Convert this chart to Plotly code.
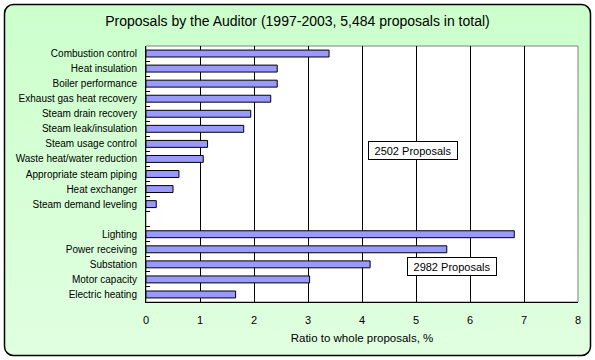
import base64
import plotly.graph_objects as go

categories = [
    "Combustion control", "Heat insulation", "Boiler performance",
    "Exhaust gas heat recovery", "Steam drain recovery", "Steam leak/insulation",
    "Steam usage control", "Waste heat/water reduction", "Appropriate steam piping",
    "Heat exchanger", "Steam demand leveling", " ",
    "Lighting", "Power receiving", "Substation", "Motor capacity", "Electric heating",
]
ratios = [3.39, 2.43, 2.43, 2.31, 1.94, 1.81, 1.14, 1.06, 0.61, 0.50, 0.19, None,
          6.82, 5.57, 4.15, 3.03, 1.66]
x_ticks = [0, 1, 2, 3, 4, 5, 6, 7, 8]
title_text = "Proposals by the Auditor (1997-2003, 5,484 proposals in total)"
x_title = "Ratio to whole proposals, %"
group_notes = ["2502 Proposals", "2982 Proposals"]

W, H = 595, 360
L, R, T, B = 146, 17, 46, 58
pw, ph = W - L - R, H - T - B

FONT = "Liberation Sans, Arial, sans-serif"

svg = (
    f'<svg xmlns="http://www.w3.org/2000/svg" width="{W}" height="{H}">'
    '<defs><linearGradient id="g" x1="0" y1="0" x2="0" y2="1">'
    '<stop offset="0" stop-color="#CCFFCC"/><stop offset="1" stop-color="#E0FFE0"/>'
    '</linearGradient></defs>'
    f'<rect x="4.5" y="4.5" width="{W-9}" height="{H-9}" rx="9" ry="9" '
    'fill="url(#g)" stroke="black" stroke-width="1.5"/></svg>'
)
src = "data:image/svg+xml;base64," + base64.b64encode(svg.encode()).decode()

fig = go.Figure(go.Bar(
    x=ratios, y=categories, orientation="h",
    marker=dict(color="#9999FF", line=dict(color="black", width=1)),
    hoverinfo="x+y",
))

fig.update_layout(
    width=W, height=H,
    margin=dict(l=L, r=R, t=T, b=B, pad=0),
    paper_bgcolor="white",
    plot_bgcolor="rgba(0,0,0,0)",
    font=dict(family=FONT, size=10, color="black"),
    bargap=0.54,
    showlegend=False,
    title=dict(text=title_text, x=0.5, xref="container", xanchor="center",
               y=1 - 21 / H, yref="container", yanchor="middle",
               font=dict(size=14, family=FONT, color="black")),
    images=[dict(source=src, xref="paper", yref="paper",
                 x=-L / pw, y=1 + T / ph, sizex=W / pw, sizey=H / ph,
                 xanchor="left", yanchor="top", sizing="stretch", layer="below")],
    shapes=[dict(type="rect", xref="paper", yref="paper", x0=0, x1=1, y0=0, y1=1,
                 fillcolor="white", line=dict(color="#808080", width=1), layer="below")],
)

fig.update_xaxes(
    range=[0, 8], tickvals=x_ticks, ticktext=[str(v) for v in x_ticks],
    showgrid=True, gridcolor="black", gridwidth=1,
    showline=True, linecolor="black", linewidth=1,
    ticks="", zeroline=False, ticklabelstandoff=8,
    tickfont=dict(size=11),
    title=dict(text=x_title, font=dict(size=11.5), standoff=8),
)
fig.update_yaxes(
    type="category", categoryorder="array", categoryarray=categories,
    autorange="reversed", tickson="boundaries",
    ticks="inside", ticklen=4, tickcolor="black", tickwidth=1,
    showline=True, linecolor="black", linewidth=1, showgrid=False,
    ticklabelstandoff=6, tickfont=dict(size=10),
)

for text, xc, yc in [(group_notes[0], 4.94, 0.591), (group_notes[1], 5.66, 0.100)]:
    fig.add_annotation(text=text, x=xc, y=yc, xref="x", yref="paper",
                       showarrow=False, bgcolor="white", bordercolor="black",
                       borderwidth=1, borderpad=2, width=84, height=13,
                       font=dict(size=11, family=FONT, color="black"))

fig.write_html("out.html", config={"displayModeBar": False},
               post_script="document.body.style.margin='0';document.body.style.overflow='hidden';")
